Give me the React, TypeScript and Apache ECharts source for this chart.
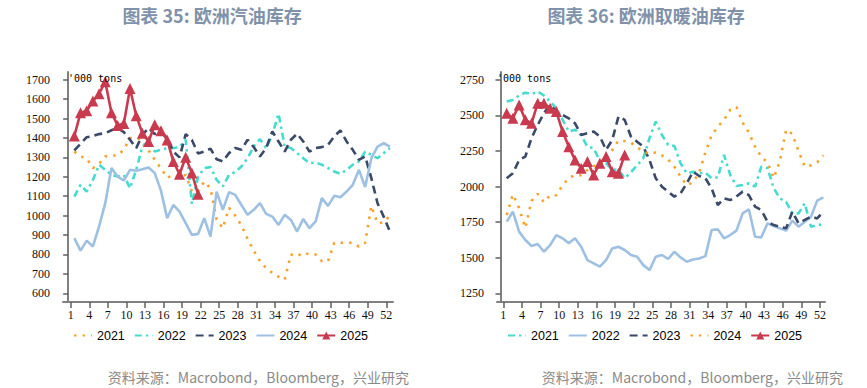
import React, { useEffect, useRef } from "react";
import * as echarts from "echarts";

// week tick labels
const weekTicks = [1, 4, 7, 10, 13, 16, 19, 22, 25, 28, 31, 34, 37, 40, 43, 46, 49, 52];
const gasTicks = [600, 700, 800, 900, 1000, 1100, 1200, 1300, 1400, 1500, 1600, 1700];
const heatTicks = [1250, 1500, 1750, 2000, 2250, 2500, 2750];

// Left chart: European gasoline inventories ('000 tons)
const gas2021 = [1330, 1305, 1295, 1245, 1267, 1305, 1310, 1310, 1340, 1400, 1400, 1390, 1336, 1287, 1245, 1195, 1210, 1200, 1210, 1124, 1124, 1176, 1141, 980, 935, 1040, 1000, 950, 880, 820, 765, 730, 705, 685, 670, 800, 790, 810, 800, 800, 765, 765, 860, 860, 860, 860, 840, 860, 1050, 960, 965, 1000];
const gas2022 = [1098, 1159, 1124, 1184, 1262, 1236, 1210, 1201, 1210, 1141, 1236, 1356, 1382, 1330, 1339, 1348, 1348, 1353, 1391, 1060, 1200, 1245, 1250, 1184, 1150, 1210, 1225, 1253, 1296, 1356, 1394, 1348, 1416, 1525, 1356, 1348, 1322, 1296, 1270, 1274, 1262, 1245, 1227, 1215, 1236, 1262, 1279, 1330, 1313, 1296, 1322, 1348];
const gas2023 = [1336, 1370, 1404, 1410, 1420, 1425, 1440, 1451, 1430, 1391, 1348, 1416, 1451, 1420, 1434, 1400, 1330, 1300, 1420, 1390, 1320, 1330, 1345, 1290, 1279, 1322, 1348, 1339, 1391, 1353, 1305, 1348, 1434, 1382, 1330, 1391, 1422, 1382, 1330, 1348, 1353, 1365, 1408, 1439, 1382, 1339, 1287, 1305, 1193, 1064, 995, 918];
const gas2024 = [884, 820, 871, 841, 944, 1064, 1245, 1201, 1181, 1236, 1231, 1239, 1248, 1219, 1129, 987, 1055, 1021, 961, 901, 906, 987, 892, 1124, 1030, 1121, 1107, 1055, 1004, 1030, 1064, 1009, 995, 952, 1004, 978, 918, 983, 935, 970, 1090, 1050, 1102, 1095, 1124, 1159, 1236, 1147, 1296, 1356, 1373, 1356];
const gas2025 = [1410, 1530, 1540, 1590, 1628, 1690, 1530, 1465, 1475, 1655, 1515, 1425, 1382, 1468, 1437, 1390, 1279, 1213, 1301, 1219, 1110];

// Right chart: European heating oil inventories ('000 tons)
const heat2021 = [2598, 2609, 2640, 2660, 2650, 2668, 2640, 2598, 2550, 2470, 2387, 2400, 2360, 2281, 2270, 2180, 2164, 2120, 2117, 2059, 2100, 2150, 2200, 2340, 2457, 2363, 2293, 2286, 2164, 2094, 2105, 2094, 2098, 2059, 2066, 2223, 2082, 2005, 2012, 2023, 2000, 2141, 2130, 1990, 1918, 1894, 1812, 1812, 1883, 1719, 1730, 1737];
const heat2022 = [1754, 1824, 1684, 1625, 1583, 1597, 1543, 1590, 1660, 1637, 1602, 1637, 1578, 1484, 1461, 1438, 1484, 1566, 1578, 1555, 1520, 1508, 1449, 1414, 1508, 1520, 1492, 1543, 1503, 1473, 1489, 1496, 1512, 1695, 1700, 1637, 1660, 1691, 1812, 1841, 1648, 1644, 1742, 1723, 1707, 1691, 1761, 1719, 1754, 1789, 1902, 1925];
const heat2023 = [2059, 2094, 2187, 2211, 2340, 2434, 2516, 2574, 2527, 2504, 2480, 2445, 2363, 2375, 2387, 2352, 2258, 2328, 2492, 2469, 2352, 2316, 2281, 2187, 2059, 2000, 1965, 1930, 1953, 2023, 2105, 2075, 2059, 1988, 1871, 1918, 1906, 1930, 1965, 1941, 1859, 1836, 1754, 1730, 1719, 1707, 1824, 1742, 1766, 1789, 1777, 1824];
const heat2024 = [1800, 1945, 1850, 1710, 1900, 1950, 1890, 1940, 1940, 2010, 2059, 2082, 2080, 2117, 2145, 2150, 2206, 2258, 2323, 2320, 2310, 2277, 2246, 2230, 2240, 2220, 2190, 2140, 2070, 2010, 2030, 2100, 2240, 2360, 2420, 2470, 2540, 2560, 2450, 2380, 2280, 2210, 2170, 2060, 2180, 2400, 2370, 2250, 2140, 2150, 2170, 2220];
const heat2025 = [2516, 2480, 2574, 2469, 2445, 2586, 2586, 2551, 2527, 2387, 2281, 2187, 2129, 2176, 2082, 2164, 2211, 2105, 2094, 2223];

const C_ORANGE = "#f6a22e";
const C_CYAN = "#45dccf";
const C_NAVY = "#3b4968";
const C_LBLUE = "#9dc0e3";
const C_RED = "#c93a4e";

const DOT = [2.5, 6];
const DASHDOT = [7, 4, 2.5, 4];
const DASH = [8, 5];

const toPts = (vals: number[]) => vals.map((v, i) => [i + 1, v]);

function lineSeries(name: string, vals: number[], color: string, dash: any, idx: number) {
  return {
    name,
    type: "line",
    xAxisIndex: idx,
    yAxisIndex: idx,
    data: toPts(vals),
    symbol: "none",
    lineStyle: { color, width: 2.6, type: dash, cap: "butt" },
    itemStyle: { color },
    z: 2,
  };
}

function redSeries(name: string, vals: number[], idx: number) {
  return {
    name,
    type: "line",
    xAxisIndex: idx,
    yAxisIndex: idx,
    data: toPts(vals),
    symbol: "triangle",
    symbolSize: 11,
    lineStyle: { color: C_RED, width: 2.6 },
    itemStyle: { color: C_RED },
    z: 5,
  };
}

const serif = "'Liberation Serif', 'DejaVu Serif', serif";
const sans = "'Liberation Sans', Arial, sans-serif";
const cjk = "'Noto Sans CJK SC', 'Noto Sans', sans-serif";

function xAxis(idx: number, min: number, max: number, off: number) {
  const vals = weekTicks.map((t) => t - off);
  return {
    type: "value",
    gridIndex: idx,
    min,
    max,
    splitLine: { show: false },
    axisLine: { show: true, lineStyle: { color: "#808080", width: 2 } },
    axisTick: { show: true, customValues: vals, length: 6, lineStyle: { color: "#606060", width: 1.5 } },
    axisLabel: {
      customValues: vals,
      formatter: (v: number) => String(Math.round(v + off)),
      fontFamily: serif,
      fontSize: 12,
      color: "#111",
      margin: 7,
    },
  };
}

function yAxis(idx: number, min: number, max: number, ticks: number[]) {
  return {
    type: "value",
    gridIndex: idx,
    min,
    max,
    splitLine: { show: false },
    axisLine: { show: true, lineStyle: { color: "#808080", width: 2 } },
    axisTick: { show: true, customValues: ticks, length: 5, lineStyle: { color: "#606060", width: 1.5 } },
    axisLabel: {
      customValues: ticks,
      formatter: (v: number) => String(v),
      fontFamily: serif,
      fontSize: 12,
      color: "#111",
      margin: 13,
    },
  };
}

function legend(left: number, names: string[]) {
  return {
    left,
    top: 324,
    orient: "horizontal",
    itemWidth: 18,
    itemHeight: 10,
    itemGap: 9,
    data: names.map((n, i) =>
      i < 4 ? { name: n, itemStyle: { opacity: 0 } } : { name: n }
    ),
    formatter: (n: string) => n.slice(1),
    textStyle: { fontFamily: sans, fontSize: 12.5, color: "#000" },
    selectedMode: false,
  };
}

export default function App() {
  const ref = useRef<HTMLDivElement>(null);
  useEffect(() => {
    if (!ref.current) return;
    const chart = echarts.init(ref.current, undefined, { renderer: "svg" });
    const titleStyle = { fill: "#8092aa", font: `bold 18px ${cjk}`, align: "center", verticalAlign: "middle" };
    const unitStyle = { fill: "#000", font: "10px 'DejaVu Sans Mono', 'Liberation Mono', monospace", align: "left", verticalAlign: "middle" };
    const srcStyle = { fill: "#8a8a8a", font: `14px ${cjk}`, align: "right", verticalAlign: "middle" };
    chart.setOption({
      animation: false,
      backgroundColor: "#ffffff",
      grid: [
        { left: 63, top: 72, width: 330, height: 230 },
        { left: 497, top: 72, width: 328, height: 230 },
      ],
      xAxis: [xAxis(0, -0.83, 52.5, 0.58), xAxis(1, -0.56, 52.26, 0.55)],
      yAxis: [yAxis(0, 555, 1740, gasTicks), yAxis(1, 1190, 2805, heatTicks)],
      legend: [
        legend(68, ["L2021", "L2022", "L2023", "L2024", "L2025"]),
        legend(502, ["R2021", "R2022", "R2023", "R2024", "R2025"]),
      ],
      series: [
        lineSeries("L2021", gas2021, C_ORANGE, DOT, 0),
        lineSeries("L2022", gas2022, C_CYAN, DASHDOT, 0),
        lineSeries("L2023", gas2023, C_NAVY, DASH, 0),
        lineSeries("L2024", gas2024, C_LBLUE, "solid", 0),
        redSeries("L2025", gas2025, 0),
        lineSeries("R2021", heat2021, C_CYAN, DASHDOT, 1),
        lineSeries("R2022", heat2022, C_LBLUE, "solid", 1),
        lineSeries("R2023", heat2023, C_NAVY, DASH, 1),
        lineSeries("R2024", heat2024, C_ORANGE, DOT, 1),
        redSeries("R2025", heat2025, 1),
      ],
      graphic: [
        { type: "text", x: 212, y: 15, style: { ...titleStyle, text: "图表 35: 欧洲汽油库存" } },
        { type: "text", x: 646, y: 15, style: { ...titleStyle, text: "图表 36: 欧洲取暖油库存" } },
        { type: "text", x: 68, y: 78, z: 10, style: { ...unitStyle, text: "'000 tons" } },
        { type: "text", x: 497, y: 78, z: 10, style: { ...unitStyle, text: "'000 tons" } },
        { type: "text", x: 409, y: 377, style: { ...srcStyle, text: "资料来源：Macrobond，Bloomberg，兴业研究" } },
        { type: "text", x: 843, y: 377, style: { ...srcStyle, text: "资料来源：Macrobond，Bloomberg，兴业研究" } },
      ],
    });
    return () => chart.dispose();
  }, []);
  return (
    <div
      ref={ref}
      style={{ position: "absolute", left: 0, top: 0, width: 867, height: 388, background: "#fff" }}
    />
  );
}
